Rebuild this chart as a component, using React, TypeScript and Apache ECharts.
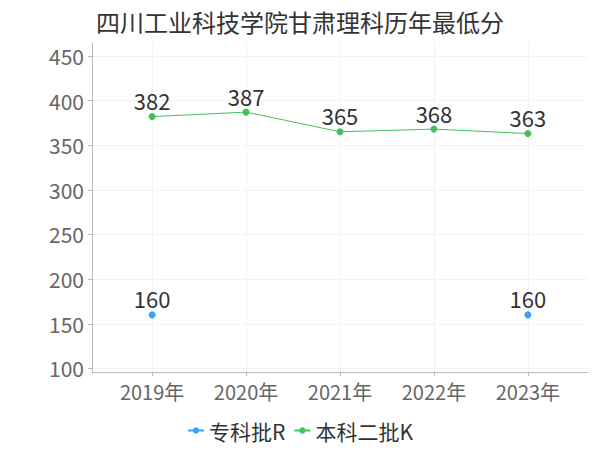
import React, { useEffect, useRef } from "react";
import * as echarts from "echarts";

const title = "四川工业科技学院甘肃理科历年最低分";
const years = [2019, 2020, 2021, 2022, 2023];
const seriesNames = ["专科批R", "本科二批K"];
const zhuanke: (number | null)[] = [160, null, null, null, 160];
const benke: (number | null)[] = [382, 387, 365, 368, 363];
const yTicks = [100, 150, 200, 250, 300, 350, 400, 450];

const FONT = "'Noto Sans CJK SC', 'Noto Sans', sans-serif";

export default function App() {
  const ref = useRef<HTMLDivElement>(null);
  useEffect(() => {
    if (!ref.current) return;
    const chart = echarts.init(ref.current, null, { renderer: "svg" });
    const toPairs = (arr: (number | null)[]) =>
      years.map((y, i) => [y, arr[i] == null ? "-" : arr[i]]);
    const label = {
      show: true,
      position: "top",
      fontSize: 22,
      color: "#333",
      fontFamily: FONT,
      distance: 2,
    };
    chart.setOption({
      animation: false,
      title: {
        text: title,
        left: "center",
        top: 4,
        textStyle: { fontSize: 24, fontWeight: "normal", color: "#333", fontFamily: FONT },
      },
      legend: {
        bottom: 4,
        left: "center",
        itemGap: 8,
        itemWidth: 16,
        itemHeight: 8,
        textStyle: { fontSize: 21, color: "#333", fontFamily: FONT },
        data: seriesNames,
      },
      grid: { left: 92, right: 12, top: 43, bottom: 78, containLabel: false },
      xAxis: {
        type: "value",
        min: 2018.36,
        max: 2023.64,
        axisLine: { show: true, lineStyle: { color: "#bbb" } },
        axisTick: { show: true, customValues: years, length: 4, lineStyle: { color: "#bbb" } },
        axisLabel: {
          customValues: years,
          formatter: (v: number) => v + "年",
          fontSize: 20,
          color: "#666",
          fontFamily: FONT,
          margin: 9,
        },
        splitLine: { show: true, lineStyle: { color: "#f3f3f3" } },
      },
      yAxis: {
        type: "value",
        min: 96,
        max: 464.4,
        axisLine: { show: true, lineStyle: { color: "#bbb" } },
        axisTick: { show: true, customValues: yTicks, length: 4, lineStyle: { color: "#bbb" } },
        axisLabel: {
          customValues: yTicks,
          fontSize: 21,
          color: "#666",
          fontFamily: FONT,
          margin: 8,
        },
        splitLine: { show: true, lineStyle: { color: "#f3f3f3" } },
      },
      series: [
        {
          name: seriesNames[0],
          type: "line",
          data: toPairs(zhuanke),
          symbol: "circle",
          symbolSize: 7,
          itemStyle: { color: "#3ba1ff" },
          lineStyle: { width: 1, color: "#3ba1ff" },
          label,
        },
        {
          name: seriesNames[1],
          type: "line",
          data: toPairs(benke),
          symbol: "circle",
          symbolSize: 7,
          itemStyle: { color: "#3fc35a" },
          lineStyle: { width: 1, color: "#3fc35a" },
          label,
        },
      ],
    });
    return () => chart.dispose();
  }, []);
  return (
    <div
      ref={ref}
      style={{ position: "absolute", left: 0, top: 0, width: 600, height: 450 }}
    />
  );
}
